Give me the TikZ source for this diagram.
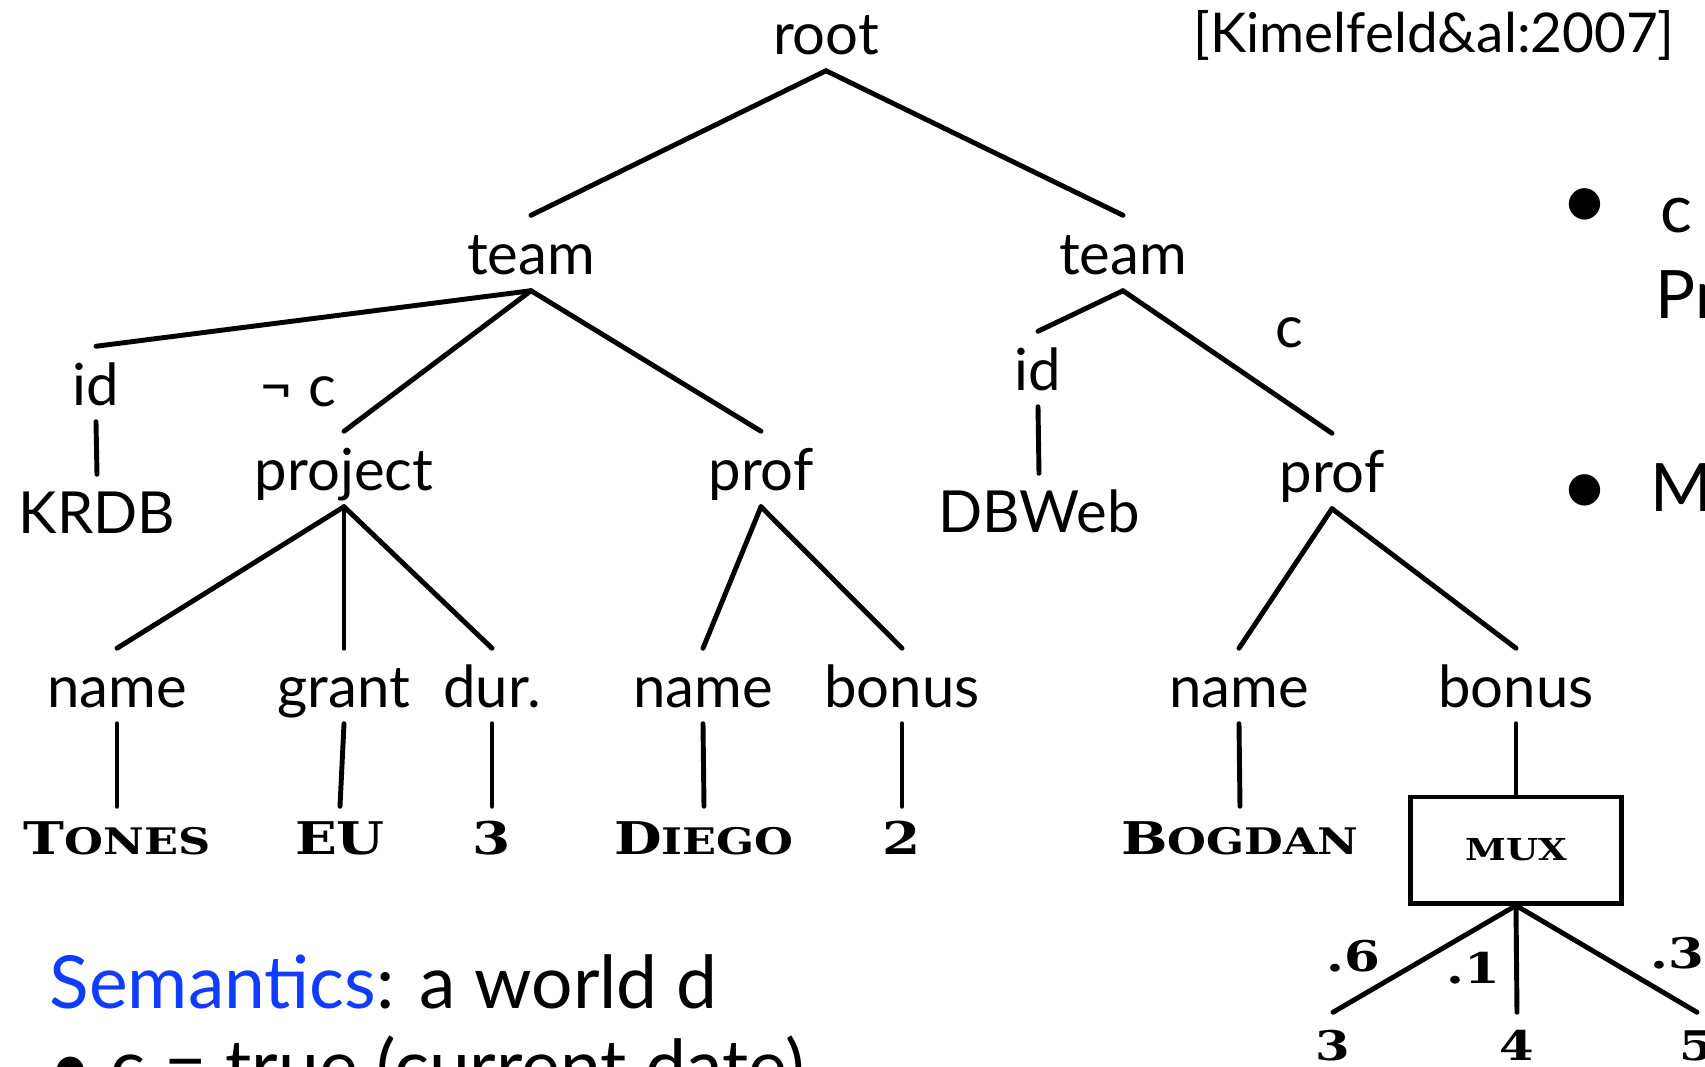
\documentclass[tikz,border=0pt]{standalone}
\usepackage{fontspec}
\setmainfont{Lato}
\newfontfamily\valfont{DejaVu Serif}[FakeStretch=1.22]
\usepackage{tikz}
\usetikzlibrary{positioning}
\definecolor{semblue}{RGB}{16,60,255}
\newcommand{\scv}[2]{{\valfont\bfseries\fontsize{12.8pt}{15pt}\selectfont#1\fontsize{10.4pt}{13pt}\selectfont#2}}
\tikzstyle{lbl}=[anchor=base, font=\fontsize{16.5pt}{19pt}\selectfont, text height=0.42cm, text depth=0pt, inner xsep=0pt, inner ysep=0.16cm]
\tikzstyle{val}=[anchor=base, text height=0.33cm, text depth=0pt, inner xsep=0pt, inner ysep=0.14cm]
\tikzstyle{cond}=[font=\fontsize{16.5pt}{19pt}\selectfont, inner sep=0pt]
\tikzstyle{prob}=[font=\valfont\bfseries\fontsize{12pt}{14pt}\selectfont, inner sep=0pt]
\tikzstyle{muxbox}=[draw, line width=1.4pt, minimum width=2.1cm, minimum height=1.06cm, inner sep=0pt, font=\valfont\bfseries\fontsize{8.6pt}{10pt}\selectfont]
\tikzstyle{edge}=[line width=1.4pt, line cap=round]
\tikzstyle{slide}=[anchor=base west, font=\fontsize{20.8pt}{24pt}\selectfont, inner sep=0pt]
\tikzstyle{side}=[anchor=base west, font=\fontsize{19pt}{23pt}\selectfont, inner sep=0pt]

\begin{document}
\begin{tikzpicture}[x=0.01cm, y=-0.01cm]
\useasboundingbox (0,0) rectangle (1705,1066);
\node[lbl] (root) at (826,54){root};
\node[lbl, font=\fontsize{15.6pt}{18pt}\selectfont] (cite) at (1434,52){[Kimelfeld\&al:2007]};
\node[lbl] (teamL) at (531,274){team};
\node[lbl] (teamR) at (1123,274){team};
\node[lbl] (idL) at (96,405){id};
\node[lbl] (projL) at (344,490){project};
\node[lbl] (profL) at (761,490){prof};
\node[lbl] (krdb) at (97,533){KRDB};
\node[lbl] (idR) at (1038,390){id};
\node[lbl] (dbweb) at (1039,532){DBWeb};
\node[lbl] (profR) at (1332,492){prof};
\node[lbl] (nameA) at (117,707){name};
\node[lbl] (grant) at (344,707){grant};
\node[lbl] (dur) at (492,707){dur.};
\node[lbl] (nameB) at (703,707){name};
\node[lbl] (bonusB) at (902,707){bonus};
\node[lbl] (nameC) at (1239,707){name};
\node[lbl] (bonusC) at (1516,707){bonus};
\node[val] (tones) at (117,854){\scv{T}{ONES}};
\node[val] (eu) at (340,854){\scv{EU}{}};
\node[val] (durv) at (492,854){\scv{3}{}};
\node[val] (diego) at (704,854){\scv{D}{IEGO}};
\node[val] (bonv) at (902,854){\scv{2}{}};
\node[val] (bogdan) at (1240,854){\scv{B}{OGDAN}};
\node[muxbox] (mux) at (1516,850){MUX};
\node[val, font=\valfont\bfseries\fontsize{11.6pt}{14pt}\selectfont] (l3) at (1333,1060){3};
\node[val, font=\valfont\bfseries\fontsize{11.6pt}{14pt}\selectfont] (l4) at (1517,1060){4};
\node[val, font=\valfont\bfseries\fontsize{11.6pt}{14pt}\selectfont] (l5) at (1697,1060){5};
\draw[edge](root.south) -- (teamL.north);
\draw[edge](root.south) -- (teamR.north);
\draw[edge](teamL.south) -- (idL.north);
\draw[edge](teamL.south) -- node[cond, pos=0.72, left=0.58cm]{¬ c} (projL.north);
\draw[edge](teamL.south) -- (profL.north);
\draw[edge](teamR.south) -- (idR.north);
\draw[edge](teamR.south) -- node[cond, pos=0.6, above right=0.26cm and 0.25cm]{c} (profR.north);
\draw[edge](idL.south) -- (krdb.north);
\draw[edge](idR.south) -- (dbweb.north);
\draw[edge](projL.south) -- (nameA.north);
\draw[edge](projL.south) -- (grant.north);
\draw[edge](projL.south) -- (dur.north);
\draw[edge](profL.south) -- (nameB.north);
\draw[edge](profL.south) -- (bonusB.north);
\draw[edge](profR.south) -- (nameC.north);
\draw[edge](profR.south) -- (bonusC.north);
\draw[edge](nameA.south) -- (tones.north);
\draw[edge](grant.south) -- (eu.north);
\draw[edge](dur.south) -- (durv.north);
\draw[edge](nameB.south) -- (diego.north);
\draw[edge](bonusB.south) -- (bonv.north);
\draw[edge](nameC.south) -- (bogdan.north);
\draw[edge](bonusC.south) -- (mux.north);
\draw[edge](mux.south) -- node[prob, pos=0.65, above left=0cm and 0.14cm]{.6} (l3.north);
\draw[edge](mux.south) -- node[prob, pos=0.59, left=0.14cm]{.1} (l4.north);
\draw[edge](mux.south) -- node[prob, pos=0.62, above right=0cm and 0.2cm]{.3} (l5.north);
\node[slide] (sem) at (49,1008){\textcolor{semblue}{Semantics}: a world d};
\node[slide] (cur) at (49,1092){• c = true (current date)};
\node[side, font=\fontsize{24pt}{28pt}\selectfont] (dotA) at (1560,229){•};
\node[side] (cA) at (1660,232){c\,–};
\node[side] (prA) at (1655,318){Pr};
\node[side, font=\fontsize{24pt}{28pt}\selectfont] (dotB) at (1560,515){•};
\node[side] (muA) at (1650,511){MU};
\end{tikzpicture}
\end{document}
